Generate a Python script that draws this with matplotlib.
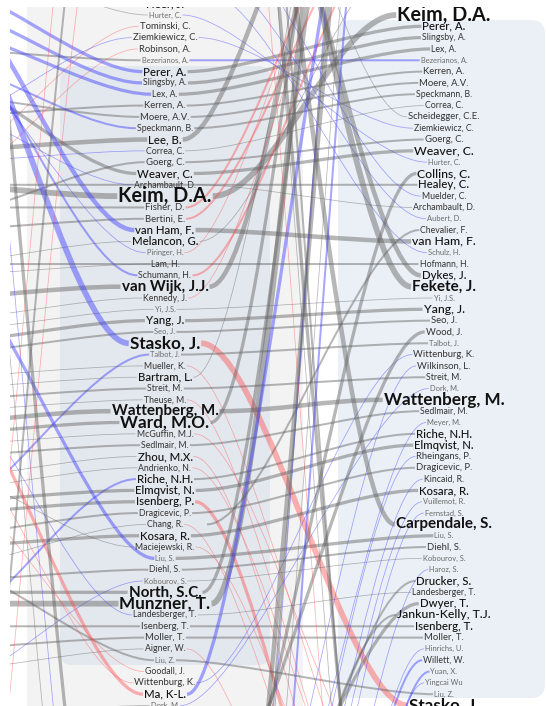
import matplotlib
matplotlib.use("Agg")
import matplotlib.pyplot as plt
from matplotlib.path import Path
from matplotlib.patches import PathPatch, FancyBboxPatch

plt.rcParams["font.family"] = ["Lato", "DejaVu Sans"]

# ---------------- data ----------------
# column 0 (left, visible) -- first entry sits one row above the crop
left_names = [
    "Heer, J.", "Hurter, C.", "Tominski, C.", "Ziemkiewicz, C.", "Robinson, A.",
    "Bezerianos, A.", "Perer, A.", "Slingsby, A.", "Lex, A.", "Kerren, A.",
    "Moere, A.V.", "Speckmann, B.", "Lee, B.", "Correa, C.", "Goerg, C.",
    "Weaver, C.", "Archambault, D.", "Keim, D.A.", "Fisher, D.", "Bertini, E.",
    "van Ham, F.", "Melancon, G.", "Piringer, H.", "Lam, H.", "Schumann, H.",
    "van Wijk, J.J.", "Kennedy, J.", "Yi, J.S.", "Yang, J.", "Seo, J.",
    "Stasko, J.", "Talbot, J.", "Mueller, K.", "Bartram, L.", "Streit, M.",
    "Theuse, M.", "Wattenberg, M.", "Ward, M.O.", "McGuffin, M.J.", "Sedlmair, M.",
    "Zhou, M.X.", "Andrienko, N.", "Riche, N.H.", "Elmqvist, N.", "Isenberg, P.",
    "Dragicevic, P.", "Chang, R.", "Kosara, R.", "Maciejewski, R.", "Liu, S.",
    "Diehl, S.", "Kobourov, S.", "North, S.C.", "Munzner, T.", "Landesberger, T.",
    "Isenberg, T.", "Moller, T.", "Aigner, W.", "Liu, Z.", "Goodall, J.",
    "Wittenburg, K.", "Ma, K-L.", "Dork, M.",
]
left_level = [4, 1, 3, 3, 3, 1, 4, 2, 2, 3, 3, 2, 4, 2, 3, 4, 2, 8, 3, 3, 4, 4, 1, 2, 2,
              6, 2, 1, 4, 1, 7, 1, 2, 4, 2, 2, 6, 7, 2, 2, 4, 2, 4, 4, 4, 2, 2, 4, 2, 1,
              2, 1, 6, 7, 2, 3, 3, 2, 1, 2, 3, 4, 1]
# rank in the previous (off-screen) column and colour of that link
left_prev_rank = [None, -6, 14, 10, 16, 3, -3, -1, 1, 9, 7, 4, 12, 13, 18, 5, 8, 15, 17, 19,
                  -4, 22, 2, 23, 0, 25, 27, 28, 29, 30, -5, 45, 32, 33, 34, 35, 36, 37, 38, 39,
                  41, 42, 55, 43, 44, 46, 49, 47, 40, 20, 50, 60, 51, 52, 31, 54, 56, 58, 48,
                  40, 35, 30, 62]
left_prev_color = list("kkrbrkbbbkkbkbkkbkkkbkbkbkkkkkbbkkkkkkkkkkbkkkkkkbkbkkbkkkkrrrk")

# column 1 (right, visible)
right_names = [
    "Keim, D.A.", "Perer, A.", "Slingsby, A.", "Lex, A.", "Bezerianos, A.",
    "Kerren, A.", "Moere, A.V.", "Speckmann, B.", "Correa, C.", "Scheidegger, C.E.",
    "Ziemkiewicz, C.", "Goerg, C.", "Weaver, C.", "Hurter, C.", "Collins, C.",
    "Healey, C.", "Muelder, C.", "Archambault, D.", "Aubert, D.", "Chevalier, F.",
    "van Ham, F.", "Schulz, H.", "Hofmann, H.", "Dykes, J.", "Fekete, J.",
    "Yi, J.S.", "Yang, J.", "Seo, J.", "Wood, J.", "Talbot, J.",
    "Wittenburg, K.", "Wilkinson, L.", "Streit, M.", "Dork, M.", "Wattenberg, M.",
    "Sedlmair, M.", "Meyer, M.", "Riche, N.H.", "Elmqvist, N.", "Rheingans, P.",
    "Dragicevic, P.", "Kincaid, R.", "Kosara, R.", "Vuillemot, R.", "Fernstad, S.",
    "Carpendale, S.", "Liu, S.", "Diehl, S.", "Kobourov, S.", "Haroz, S.",
    "Drucker, S.", "Landesberger, T.", "Dwyer, T.", "Jankun-Kelly, T.J.", "Isenberg, T.",
    "Moller, T.", "Hinrichs, U.", "Willett, W.", "Yuan, X.", "Yingcai Wu",
    "Liu, Z.", "Stasko, J.",
]
right_level = [8, 4, 2, 2, 1, 3, 3, 2, 2, 3, 2, 3, 5, 1, 5, 4, 2, 2, 1, 2, 5, 1, 2, 4, 6,
               1, 5, 3, 3, 1, 3, 3, 2, 1, 7, 2, 1, 4, 4, 3, 3, 2, 4, 1, 1, 6, 1, 3, 1, 1,
               4, 2, 4, 5, 4, 3, 1, 2, 1, 1, 1, 7]

# link colour between the two visible columns (default grey)
mid_color = {"Hurter, C.": "b", "Ziemkiewicz, C.": "b", "Bezerianos, A.": "b",
             "Wittenburg, K.": "b", "Dork, M.": "b", "Stasko, J.": "r"}

# left-column authors whose next appearance is outside the crop: (rank in column 1, colour)
left_next = {
    "Lee, B.": (-30, "k"), "Fisher, D.": (-16, "r"), "Bertini, E.": (-12, "r"),
    "Melancon, G.": (-5, "k"), "Piringer, H.": (-20, "r"), "Schumann, H.": (-9, "r"),
    "van Wijk, J.J.": (-34, "k"), "Kennedy, J.": (-18, "r"), "Mueller, K.": (75, "r"),
    "Bartram, L.": (-40, "k"), "Theuse, M.": (80, "r"), "Ward, M.O.": (-50, "k"),
    "McGuffin, M.J.": (70, "r"), "Zhou, M.X.": (85, "r"), "Andrienko, N.": (78, "r"),
    "Isenberg, P.": (90, "r"), "Chang, R.": (88, "r"), "Maciejewski, R.": (82, "r"),
    "North, S.C.": (-45, "k"), "Munzner, T.": (-60, "k"), "Aigner, W.": (95, "r"),
    "Ma, K-L.": (-30, "b"),
}

# right-column authors missing from the left column: (column, rank, colour) of previous appearance
right_prev = {
    "Scheidegger, C.E.": (0, -25, "k"), "Collins, C.": (0, 75, "k"), "Healey, C.": (-1, 15, "k"),
    "Muelder, C.": (0, -8, "b"), "Aubert, D.": (0, -4, "b"), "Chevalier, F.": (0, 45, "k"),
    "Schulz, H.": (0, -2, "b"), "Hofmann, H.": (-1, 22, "k"), "Dykes, J.": (0, -30, "k"),
    "Fekete, J.": (0, -35, "k"), "Wood, J.": (0, 70, "k"), "Wilkinson, L.": (0, 90, "b"),
    "Meyer, M.": (0, 95, "b"), "Rheingans, P.": (0, 100, "b"), "Kincaid, R.": (0, 105, "b"),
    "Vuillemot, R.": (0, 110, "b"), "Fernstad, S.": (0, 115, "b"), "Carpendale, S.": (0, -40, "k"),
    "Haroz, S.": (0, 120, "b"), "Drucker, S.": (0, 85, "k"), "Dwyer, T.": (0, 80, "k"),
    "Jankun-Kelly, T.J.": (0, 88, "k"), "Hinrichs, U.": (0, 125, "b"), "Willett, W.": (0, 130, "b"),
    "Yuan, X.": (0, 135, "b"), "Yingcai Wu": (0, 140, "b"),
}

# authors whose labels are all outside the crop: (col_a, rank_a, col_b, rank_b, colour, weight)
hidden_links = [
    (0, -45, 1, 95, "k", 3), (0, -50, 1, 110, "k", 1), (0, 95, 1, -45, "k", 4),
    (0, 105, 1, -55, "k", 2), (0, 120, 1, -40, "k", 1), (0, 110, 1, -60, "b", 1),
    (0, -40, 1, 120, "r", 1), (0, -60, 1, 100, "k", 2), (0, 130, 1, -35, "b", 2),
    (-1, -40, 0, 90, "k", 3), (-1, 100, 0, -30, "k", 2), (-1, -30, 0, 100, "b", 1),
    (-1, 90, 0, -40, "r", 1), (-1, -20, 0, 110, "k", 1), (-1, 110, 0, -20, "r", 1),
]

# co-authorship strength -> line weight (default 1)
author_weight = {
    "Keim, D.A.": 5, "Stasko, J.": 5, "Munzner, T.": 5, "Fekete, J.": 5,
    "Wattenberg, M.": 4, "van Wijk, J.J.": 4, "Lee, B.": 4, "van Ham, F.": 4,
    "Dykes, J.": 4, "Carpendale, S.": 4,
    "Ward, M.O.": 3, "Slingsby, A.": 3, "Lex, A.": 3, "Perer, A.": 3, "Weaver, C.": 3,
    "Kosara, R.": 3, "North, S.C.": 3, "Liu, S.": 3, "Ma, K-L.": 3, "Isenberg, P.": 3,
    "Elmqvist, N.": 3, "Collins, C.": 3, "Wood, J.": 3, "Dwyer, T.": 3, "Yang, J.": 3,
    "Bezerianos, A.": 2, "Riche, N.H.": 2, "Yuan, X.": 2, "Willett, W.": 2,
    "Jankun-Kelly, T.J.": 2, "Drucker, S.": 2, "Isenberg, T.": 2, "Moller, T.": 2,
    "Liu, Z.": 2, "Streit, M.": 2, "Talbot, J.": 2, "Seo, J.": 2, "Goerg, C.": 2,
    "Kerren, A.": 2, "Moere, A.V.": 2, "Speckmann, B.": 2, "Hofmann, H.": 2,
    "Chevalier, F.": 2, "Healey, C.": 2, "Fisher, D.": 2, "Bertini, E.": 2,
    "Schumann, H.": 2, "Dragicevic, P.": 2, "Sedlmair, M.": 2, "Diehl, S.": 2,
}

# ---------------- layout / style ----------------
W, H = 546, 706
TOP, ROW = 15.0, 11.32
LEFT_FIRST = -1
COL_X = {-1: -114.0, 0: 165.0, 1: 444.0}
HALF = 42.0
PALETTE = {"k": ("#606060", 0.45), "b": ("#3c3cff", 0.45), "r": ("#ff4a4a", 0.42)}
FONT_SIZE = {1: 5.4, 2: 6.3, 3: 6.8, 4: 8.2, 5: 8.8, 6: 10.9, 7: 12.3, 8: 14.2}


def y_of(rank):
    return TOP + rank * ROW


def text_style(level):
    color = "#6a6a6a" if level == 1 else ("#333333" if level <= 3 else "#111111")
    weight = "bold" if level >= 6 else ("medium" if level >= 4 else "normal")
    return dict(fontsize=FONT_SIZE[level], color=color, fontweight=weight)


def link(ax, x0, y0, x1, y1, c, w):
    d = min(60.0, 0.45 * (x1 - x0))
    verts = [(x0, y0), (x0 + d, y0), (x1 - d, y1), (x1, y1)]
    codes = [Path.MOVETO, Path.CURVE4, Path.CURVE4, Path.CURVE4]
    col, alpha = PALETTE[c]
    ax.add_patch(PathPatch(Path(verts, codes), fill=False, edgecolor=col, alpha=alpha,
                           lw=0.55 + 0.9 * (w - 1), capstyle="butt", zorder=2))


fig = plt.figure(figsize=(W / 100, H / 100), dpi=100)
ax = fig.add_axes([10 / W, 0, (W - 10) / W, (H - 7) / H])
ax.set_xlim(10, W)
ax.set_ylim(H, 7)
ax.axis("off")

# background panels
ax.add_patch(FancyBboxPatch((27, -40), 276, 800, boxstyle="round,pad=0,rounding_size=12",
                            fc="#f3f3f4", ec="none", zorder=0))
ax.add_patch(FancyBboxPatch((60, 66), 210, 599, boxstyle="round,pad=0,rounding_size=12",
                            fc="#e3e8ee", ec="none", zorder=0))
ax.add_patch(FancyBboxPatch((338, 20), 207, 678, boxstyle="round,pad=0,rounding_size=14",
                            fc="#eaf0f6", ec="none", zorder=0))

# labels
left_txt, right_txt = {}, {}
for i, name in enumerate(left_names):
    left_txt[name] = ax.text(COL_X[0], y_of(LEFT_FIRST + i), name, ha="center", va="center",
                             zorder=5, clip_on=True, **text_style(left_level[i]))
for i, name in enumerate(right_names):
    right_txt[name] = ax.text(COL_X[1], y_of(i), name, ha="center", va="center",
                              zorder=5, clip_on=True, **text_style(right_level[i]))

fig.canvas.draw()
renderer = fig.canvas.get_renderer()
inv = ax.transData.inverted()


def edges(t):
    bb = t.get_window_extent(renderer)
    return inv.transform((bb.x0, bb.y0))[0] - 1, inv.transform((bb.x1, bb.y0))[0] + 1


right_rank = {n: i for i, n in enumerate(right_names)}

for i, name in enumerate(left_names):
    w = author_weight.get(name, 1)
    y = y_of(LEFT_FIRST + i)
    xl, xr = edges(left_txt[name])
    if left_prev_rank[i] is not None:
        link(ax, COL_X[-1] + HALF, y_of(left_prev_rank[i]), xl, y, left_prev_color[i], w)
    if name in right_rank:
        rxl, _ = edges(right_txt[name])
        link(ax, xr, y, rxl, y_of(right_rank[name]), mid_color.get(name, "k"), w)
    elif name in left_next:
        r, c = left_next[name]
        link(ax, xr, y, COL_X[1] - HALF, y_of(r), c, w)

for name, (col, r, c) in right_prev.items():
    rxl, _ = edges(right_txt[name])
    link(ax, COL_X[col] + HALF, y_of(r), rxl, y_of(right_rank[name]), c,
         author_weight.get(name, 1))

for ca, ra, cb, rb, c, w in hidden_links:
    link(ax, COL_X[ca] + HALF, y_of(ra), COL_X[cb] - HALF, y_of(rb), c, w)

fig.savefig("out.png", dpi=100, facecolor="white")
